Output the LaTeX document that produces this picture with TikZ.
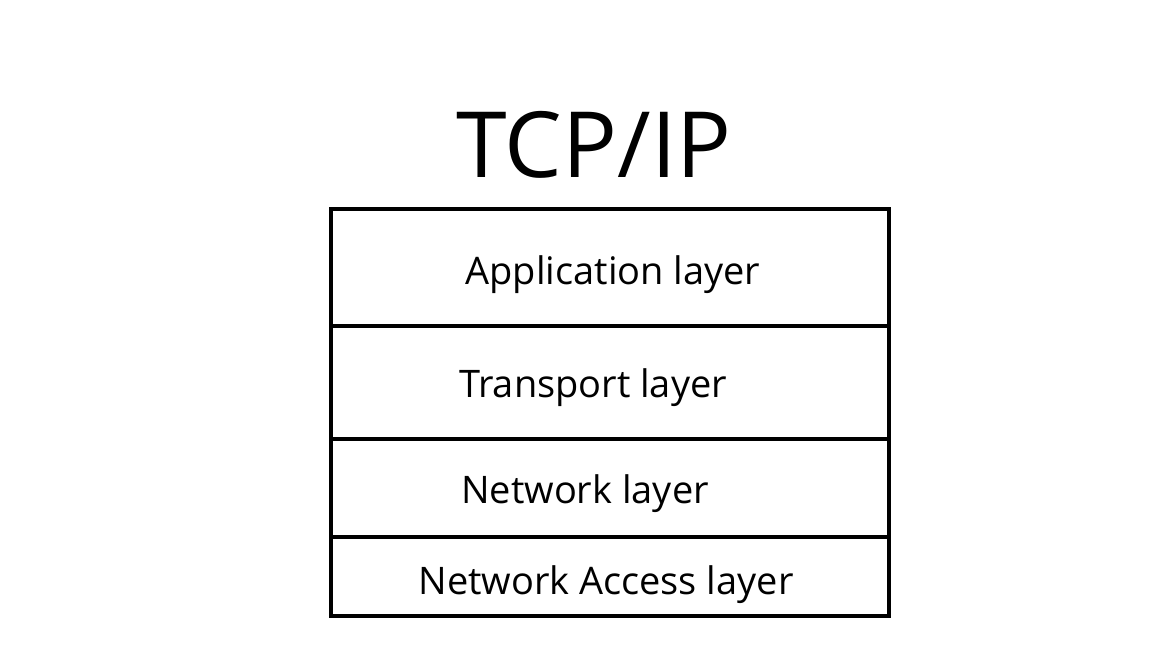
\documentclass[tikz,border=0pt]{standalone}
\usepackage{fontspec}
\setmainfont{Open Sans}
\tikzset{
  frame/.style={line width=1.4pt},
  layertext/.style={font=\fontsize{10.8}{13}\selectfont, inner sep=0pt},
}
\begin{document}
\begin{tikzpicture}
\useasboundingbox (0,0) rectangle (11.52,6.48);
% title
\node[font=\fontsize{26}{30}\selectfont, inner sep=0pt] (title) at (5.94,5.03) {TCP/IP};
% stack
\draw[frame] (3.31,0.32) rectangle (8.89,4.39);
\draw[frame] (3.31,3.22) -- (8.89,3.22);
\draw[frame] (3.31,2.09) -- (8.89,2.09);
\draw[frame] (3.31,1.11) -- (8.89,1.11);
\node[layertext] (app) at (6.13,3.73) {Application layer};
\node[layertext] (trans) at (5.93,2.60) {Transport layer};
\node[layertext] (net) at (5.85,1.54) {Network layer};
\node[layertext] (acc) at (6.06,0.63) {Network Access layer};
\end{tikzpicture}
\end{document}
